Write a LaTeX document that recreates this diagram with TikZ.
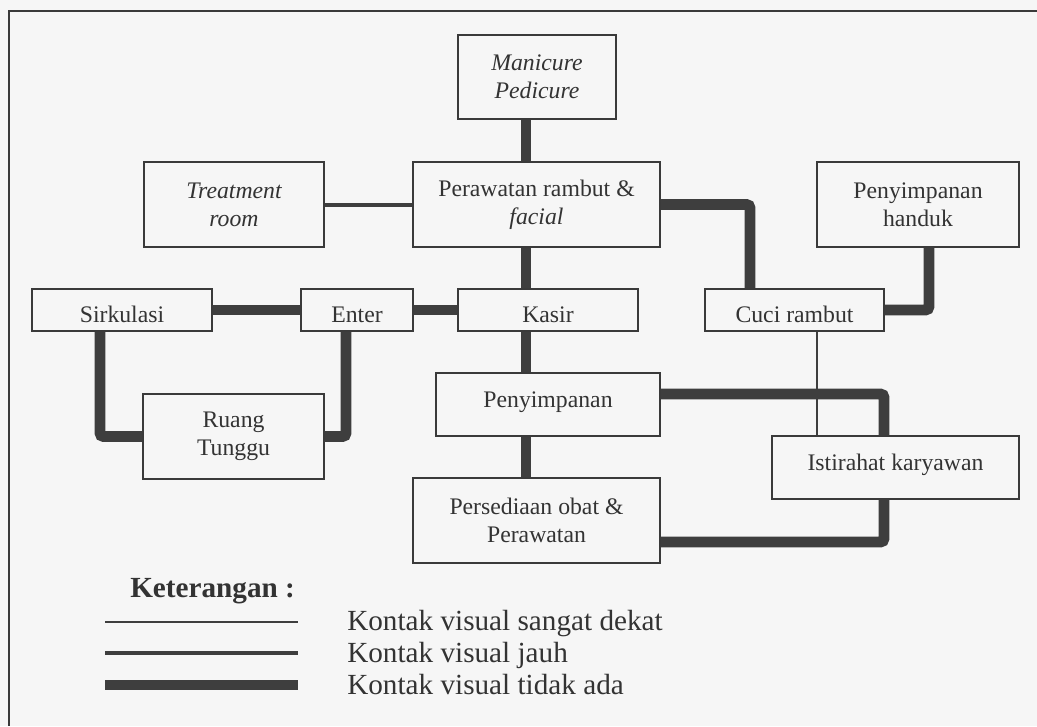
\documentclass[tikz,border=0pt]{standalone}
\usepackage{fontspec}
\setmainfont{Liberation Serif}
\definecolor{bgc}{HTML}{F6F6F6}
\definecolor{boxc}{HTML}{3A3A3A}
\definecolor{linec}{HTML}{3E3E3E}
\definecolor{txtc}{HTML}{333333}
\newcommand\boxfont{\fontsize{17.8}{21}\selectfont}
\newcommand\legfont{\fontsize{21.9}{24}\selectfont}
\begin{document}
\begin{tikzpicture}[x=0.75pt,y=-0.75pt,
  box/.style={draw=boxc, line width=1.1pt, inner sep=0pt, align=center, font=\boxfont, text=txtc},
  one/.style={box, text height=18pt, text depth=0pt},
  oneup/.style={box, text height=9pt, text depth=5.25pt},
  thickc/.style={draw=linec, line width=8pt, rounded corners=2.5pt},
  midc/.style={draw=linec, line width=3pt},
  thinc/.style={draw=linec, line width=0.9pt},
  leg/.style={anchor=base west, font=\legfont, text=txtc, inner sep=0pt},
  frame/.style={draw=boxc, line width=1.1pt}
]
\useasboundingbox (0,0) rectangle (1037,726);
\fill[bgc] (0,0) rectangle (1037,726);
% frame
\coordinate (f0) at (9,11);
\coordinate (f1) at (1037,11);
\coordinate (f2) at (9,726);
\draw[frame] (f1) -- (f0) -- (f2);

% boxes
\node[box, minimum width=158*0.75pt, minimum height=84*0.75pt] (mani) at (537,77) {\itshape Manicure\\\itshape Pedicure};
\node[box, minimum width=180*0.75pt, minimum height=85*0.75pt] (treat) at (234,204.5) {\itshape Treatment\\\itshape room};
\node[box, minimum width=247*0.75pt, minimum height=85*0.75pt] (rawat) at (536.5,204.5) {Perawatan rambut \&\\\itshape facial};
\node[box, minimum width=202*0.75pt, minimum height=85*0.75pt] (handuk) at (918,204.5) {Penyimpanan\\handuk};
\node[one, minimum width=180*0.75pt, minimum height=42*0.75pt] (sirk) at (122,310) {Sirkulasi};
\node[one, minimum width=112*0.75pt, minimum height=42*0.75pt] (enter) at (357,310) {Enter};
\node[one, minimum width=180*0.75pt, minimum height=42*0.75pt] (kasir) at (548,310) {Kasir};
\node[one, minimum width=179*0.75pt, minimum height=42*0.75pt] (cuci) at (794.5,310) {Cuci rambut};
\node[box, minimum width=181*0.75pt, minimum height=85*0.75pt] (ruang) at (233.5,436.5) {Ruang\\Tunggu};
\node[oneup, minimum width=224*0.75pt, minimum height=63*0.75pt] (simpan) at (548,404.5) {Penyimpanan};
\node[oneup, minimum width=247*0.75pt, minimum height=63*0.75pt] (istirahat) at (895.5,467.5) {Istirahat karyawan};
\node[box, minimum width=247*0.75pt, minimum height=85*0.75pt] (sedia) at (536.5,520.5) {Persediaan obat \&\\Perawatan};

% helper coordinates for connector positions
\coordinate (xm) at (526,0);
\coordinate (xc) at (750,0);
\coordinate (xh) at (929,0);
\coordinate (xt) at (817,0);
\coordinate (xi) at (884,0);
\coordinate (xs) at (100,0);
\coordinate (xe) at (346,0);
\coordinate (ys) at (0,394);
\coordinate (yp) at (0,542);

% connectors
\draw[thickc] (mani.south -| xm) -- (rawat.north -| xm);
\draw[thickc] (rawat.south -| xm) -- (kasir.north -| xm);
\draw[thickc] (kasir.south -| xm) -- (simpan.north -| xm);
\draw[thickc] (simpan.south -| xm) -- (sedia.north -| xm);
\draw[midc] (treat.east) -- (rawat.west);
\draw[thickc] (sirk.east) -- (enter.west);
\draw[thickc] (enter.east) -- (kasir.west);
\draw[thickc] (rawat.east) -| (cuci.north -| xc);
\draw[thickc] (handuk.south -| xh) |- (cuci.east);
\draw[thinc] (cuci.south -| xt) -- (istirahat.north -| xt);
\draw[thickc] (simpan.east |- ys) -| (istirahat.north -| xi);
\draw[thickc] (istirahat.south -| xi) |- (sedia.east |- yp);
\draw[thickc] (sirk.south -| xs) |- (ruang.west);
\draw[thickc] (enter.south -| xe) |- (ruang.east);

% legend
\node[anchor=base west, inner sep=0pt, font=\legfont\bfseries, text=txtc] (ket) at (130,597) {Keterangan :};
\coordinate (l1a) at (105,622); \coordinate (l1b) at (298,622);
\coordinate (l2a) at (105,653); \coordinate (l2b) at (298,653);
\coordinate (l3a) at (105,685); \coordinate (l3b) at (298,685);
\draw[thinc] (l1a) -- (l1b);
\draw[midc] (l2a) -- (l2b);
\draw[draw=linec, line width=8pt] (l3a) -- (l3b);
\node[leg] (k1) at (347,630) {Kontak visual sangat dekat};
\node[leg] (k2) at (347,662) {Kontak visual jauh};
\node[leg] (k3) at (347,694) {Kontak visual tidak ada};
\end{tikzpicture}
\end{document}
